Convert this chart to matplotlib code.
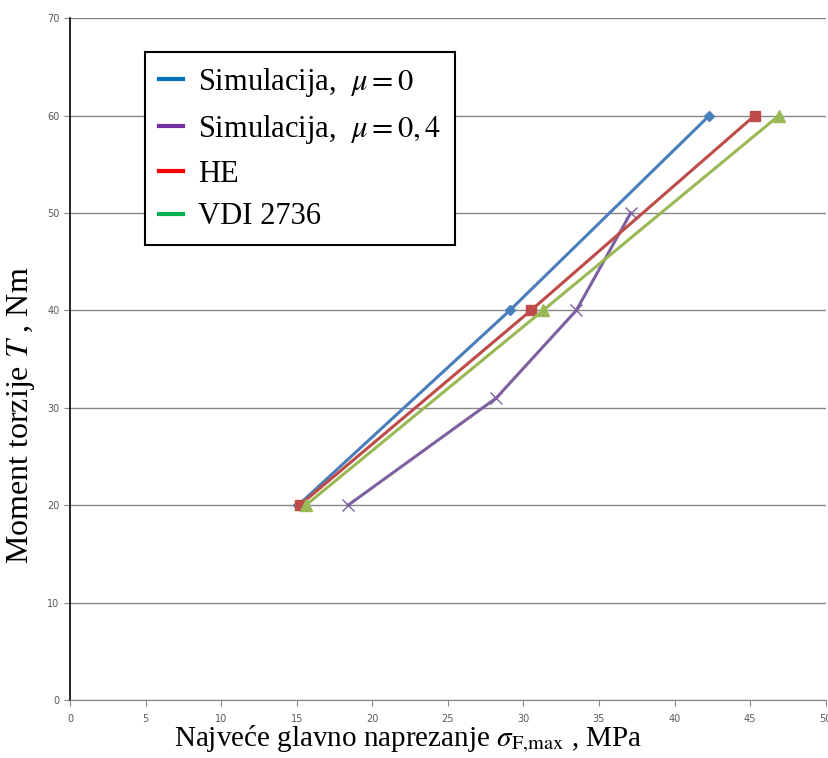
import matplotlib
matplotlib.use("Agg")
import matplotlib.pyplot as plt
from matplotlib.lines import Line2D

# torque levels, Nm
t_sim0 = [20, 40, 60]
t_sim04 = [20, 31, 40, 50]
t_he = [20, 40, 60]
t_vdi = [20, 40, 60]

# max principal stress, MPa
s_sim0 = [15.1, 29.1, 42.3]
s_sim04 = [18.4, 28.2, 33.5, 37.1]
s_he = [15.2, 30.5, 45.3]
s_vdi = [15.6, 31.3, 46.9]

labels = ["Simulacija,  $\\mu = 0$", "Simulacija,  $\\mu = 0,4$", "HE", "VDI 2736"]
legend_colors = ["#0070C0", "#7030A0", "#FF0000", "#00B050"]

plt.rcParams["mathtext.fontset"] = "stix"
serif = ["Liberation Serif", "DejaVu Serif"]

fig = plt.figure(figsize=(8.29, 7.58), dpi=100)
ax = fig.add_axes([0.0844, 0.0765, 0.9116, 0.8995])

ax.plot(s_sim0, t_sim0, color="#4A7EBB", lw=2.2, marker="D", ms=5)
ax.plot(s_sim04, t_sim04, color="#7D60A0", lw=2.2, marker="x", ms=9, mew=1)
ax.plot(s_he, t_he, color="#BE4B48", lw=2.2, marker="s", ms=7)
ax.plot(s_vdi, t_vdi, color="#98B954", lw=2.2, marker="^", ms=8)

ax.set_xlim(0, 50)
ax.set_ylim(0, 70)
ax.set_xticks(range(0, 51, 5))
ax.set_yticks(range(0, 71, 10))
ax.grid(axis="y", color="#868686", lw=1)
ax.set_axisbelow(True)
for side in ["top", "right"]:
    ax.spines[side].set_visible(False)
ax.spines["left"].set_color("#000000")
ax.spines["left"].set_linewidth(1.2)
ax.spines["bottom"].set_color("#868686")
ax.tick_params(labelsize=7, colors="#868686", labelcolor="#595959", length=4, direction="out")
ax.tick_params(axis="x", pad=6)

ax.set_xlabel("Najveće glavno naprezanje $\\sigma_{\\mathrm{F{,}max}}$ , MPa",
              family=serif, fontsize=21, labelpad=0)
ax.xaxis.set_label_coords(0.448, -0.035, transform=ax.transAxes)
ax.xaxis.label.set_va("top")
ax.set_ylabel("Moment torzije $T$ , Nm", family=serif, fontsize=23)
ax.yaxis.set_label_coords(-0.044, 0.418, transform=ax.transAxes)

handles = [Line2D([0], [0], color=c, lw=3) for c in legend_colors]
leg = ax.legend(handles, labels, loc="upper left", bbox_to_anchor=(0.099, 0.950),
                borderaxespad=0, fancybox=False, framealpha=1, edgecolor="black",
                prop={"family": serif, "size": 22}, handlelength=0.8,
                handletextpad=0.5, labelspacing=0.45, borderpad=0.45)
leg.get_frame().set_linewidth(1.5)

fig.savefig("out.png", dpi=100)
